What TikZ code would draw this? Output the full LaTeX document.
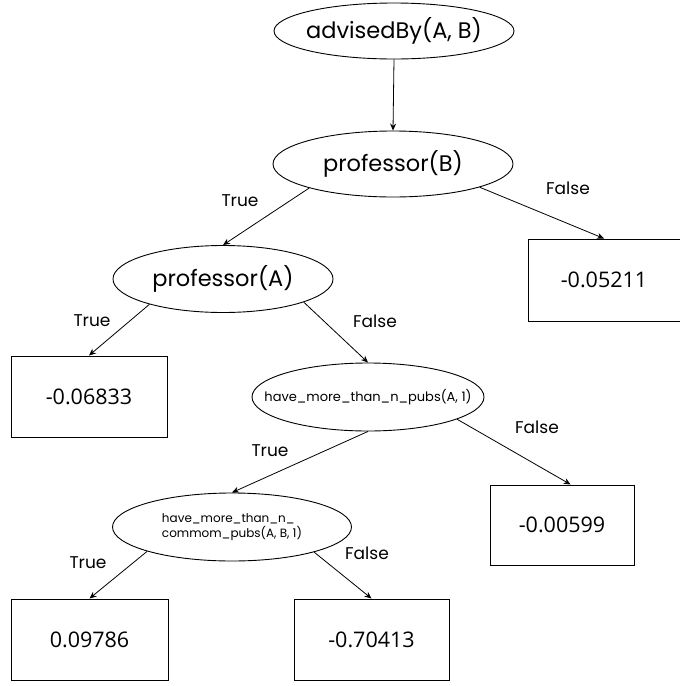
\documentclass[tikz,border=0pt]{standalone}
\usepackage{fontspec}
\usetikzlibrary{arrows.meta,shapes.geometric}
\newfontfamily\labfont{Poppins}
\newfontfamily\numfont{Open Sans}
% text that does not widen its ellipse
\newcommand{\tighttext}[1]{\makebox[0pt]{#1}}
\tikzset{
  test/.style={draw, ellipse, line width=0.9pt, inner sep=0pt, font=\labfont\fontsize{22.5}{26}\selectfont},
  smalltest/.style={test, font=\labfont\fontsize{13}{15}\selectfont},
  leaf/.style={draw, rectangle, line width=1pt, inner sep=0pt, font=\numfont\fontsize{21.5}{25}\selectfont},
  edge/.style={line width=0.8pt, -{Stealth[length=7pt,width=6pt]}},
  branch/.style={font=\labfont\fontsize{17}{19}\selectfont, inner sep=0pt}
}
\begin{document}
\begin{tikzpicture}[x=1pt,y=-1pt]
\useasboundingbox (0,0) rectangle (680,686);
% decision nodes
\node[test, minimum width=240pt, minimum height=56pt] (root) at (394,31) {\tighttext{advisedBy(A, B)}};
\node[test, minimum width=240pt, minimum height=66pt] (pB) at (393,164) {\tighttext{professor(B)}};
\node[test, minimum width=220pt, minimum height=67pt] (pA) at (223,279) {\tighttext{professor(A)}};
\node[smalltest, minimum width=232pt, minimum height=68pt] (hm1) at (368,397) {\tighttext{have\_more\_than\_n\_pubs(A, 1)}};
\node[smalltest, font=\labfont\fontsize{12}{14.5}\selectfont, minimum width=239pt, minimum height=68pt] (hm2) at (232,527)
  {\tighttext{\begin{tabular}{@{}l@{}}have\_more\_than\_n\_\\commom\_pubs(A, B, 1)\end{tabular}}};
% leaves
\node[leaf, minimum width=152pt, minimum height=82pt] (b1) at (604,280) {-0.05211};
\node[leaf, minimum width=156pt, minimum height=81pt] (b2) at (89,396.5) {-0.06833};
\node[leaf, minimum width=144pt, minimum height=80pt] (b3) at (562,525) {-0.00599};
\node[leaf, minimum width=157pt, minimum height=81pt] (b4) at (89.5,639.5) {0.09786};
\node[leaf, minimum width=155pt, minimum height=81pt] (b5) at (371.5,639.5) {-0.70413};
% connectors
\draw[edge] (root.south) -- (pB.north);
\draw[edge] (pB.196) -- (pA.north);
\draw[edge] (pB.345) -- (b1.north);
\draw[edge] (pA.199) -- (b2.north);
\draw[edge] (pA.344) -- (hm1.north);
\draw[edge] (hm1.346) -- (b3.78);
\draw[edge] (hm1.south) -- (hm2.north);
\draw[edge] (hm2.196) -- (b4.north);
\draw[edge] (hm2.343) -- (b5.north);
% branch labels
\node[branch] (t1) at (240,201) {True};
\node[branch] (f1) at (568,188) {False};
\node[branch] (t2) at (92,321) {True};
\node[branch] (f2) at (375,321) {False};
\node[branch] (f3) at (537,427) {False};
\node[branch] (t3) at (270,451) {True};
\node[branch] (t4) at (88,563) {True};
\node[branch] (f4) at (367,553) {False};
\end{tikzpicture}
\end{document}
